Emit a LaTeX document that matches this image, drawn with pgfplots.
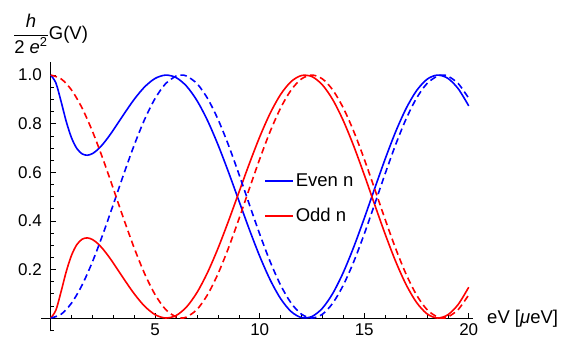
\documentclass[border=0pt]{standalone}
\usepackage{fontspec}
\setmainfont{Liberation Sans}
\usepackage{amsmath}
\usepackage{pgfplots}
\usepackage{pgfplotstable}
\pgfplotsset{compat=1.18}

% solid curves: odd n (red), even n (blue)
\pgfplotstableread{
x odd even
0 0 1
0.25 0.0328 0.9672
0.5 0.1099 0.8901
0.75 0.1931 0.8069
1 0.2591 0.7409
1.25 0.3021 0.6979
1.5 0.3242 0.6758
1.75 0.3299 0.6701
2 0.3230 0.6770
2.25 0.3068 0.6932
2.5 0.2839 0.7161
2.75 0.2563 0.7437
3 0.2257 0.7743
3.5 0.1610 0.8390
4 0.0993 0.9007
4.5 0.0481 0.9519
5 0.0136 0.9864
5.5 0.0001 0.9999
6 0.0104 0.9896
6.5 0.0457 0.9543
7 0.1052 0.8948
7.5 0.1866 0.8134
8 0.2859 0.7141
8.5 0.3979 0.6021
9 0.5164 0.4836
9.5 0.6346 0.3654
10 0.7456 0.2544
10.5 0.8428 0.1572
11 0.9202 0.0798
11.5 0.9732 0.0268
12 0.9982 0.0018
12.5 0.9936 0.0064
13 0.9596 0.0404
13.5 0.8979 0.1021
14 0.8121 0.1879
14.5 0.7074 0.2926
15 0.5900 0.4100
15.5 0.4670 0.5330
16 0.3459 0.6541
16.5 0.2340 0.7660
17 0.1383 0.8617
17.5 0.0646 0.9354
18 0.0176 0.9824
18.5 0.0001 0.9999
19 0.0133 0.9867
19.5 0.0564 0.9436
20 0.1268 0.8732
}\solidtab

% dashed curves
\pgfplotstableread{
x odd even
0 1.0000 0.0000
0.5 0.98429 0.01571
1 0.93815 0.06185
1.5 0.86448 0.13552
2 0.76791 0.23209
2.5 0.65451 0.34549
3 0.53140 0.46860
3.5 0.40631 0.59369
4 0.28711 0.71289
4.5 0.18129 0.81871
5 0.09549 0.90451
5.5 0.03511 0.96489
6 0.00394 0.99606
6.25 0 1
6.5 0.00394 0.99606
7 0.03511 0.96489
7.5 0.09549 0.90451
8 0.18129 0.81871
8.5 0.28711 0.71289
9 0.40631 0.59369
9.5 0.53140 0.46860
10 0.65451 0.34549
10.5 0.76791 0.23209
11 0.86448 0.13552
11.5 0.93815 0.06185
12 0.98429 0.01571
12.5 1 0
13 0.98429 0.01571
13.5 0.93815 0.06185
14 0.86448 0.13552
14.5 0.76791 0.23209
15 0.65451 0.34549
15.5 0.53140 0.46860
16 0.40631 0.59369
16.5 0.28711 0.71289
17 0.18129 0.81871
17.5 0.09549 0.90451
18 0.03511 0.96489
18.5 0.00394 0.99606
18.75 0 1
19 0.00394 0.99606
19.5 0.03511 0.96489
20 0.09549 0.90451
}\dashedtab

\definecolor{mblue}{RGB}{0,0,255}
\definecolor{mred}{RGB}{255,0,0}

\begin{document}
\fontsize{18.5pt}{22pt}\selectfont
\begin{tikzpicture}
\useasboundingbox (-41.3pt,-8.6pt) rectangle (523.7pt,331.4pt);
\begin{axis}[
  scale only axis,
  width=431.6pt, height=269.2pt,
  xmin=-0.45, xmax=20.2, ymin=-0.055, ymax=1.053,
  axis lines=middle,
  axis line style={-, line width=0.7pt, black},
  xtick={5,10,15,20},
  minor xtick={1,2,3,4,6,7,8,9,11,12,13,14,16,17,18,19},
  ytick={0.2,0.4,0.6,0.8,1.0},
  minor ytick={-0.05,0.05,0.1,0.15,0.25,0.3,0.35,0.45,0.5,0.55,0.65,0.7,0.75,0.85,0.9,0.95},
  tick align=inside,
  major tick length=5pt, minor tick length=3pt,
  tick style={black, line width=0.6pt},
  /pgf/number format/assume math mode=true,
  tick label style={font=\fontsize{17pt}{20pt}\selectfont},
  yticklabel style={/pgf/number format/fixed, /pgf/number format/fixed zerofill, /pgf/number format/precision=1, xshift=-2.5pt},
  xticklabel style={yshift=0.5pt},
  xlabel={eV [\textit{μ}eV]},
  xlabel style={at={(axis description cs:1.0327,0.046)}, anchor=west, inner sep=0pt},
  ylabel={$\dfrac{\mbox{\itshape h}}{\mbox{2 \itshape e\upshape\textsuperscript{2}}}$G(V)},
  ylabel style={at={(axis description cs:0.0213,1.105)}, anchor=center, inner sep=0pt, rotate=0},
  legend style={at={(axis description cs:0.516,0.4925)}, anchor=west, draw=none, fill=none, inner sep=0pt, row sep=15pt},
  legend cell align=left,
  legend image code/.code={\draw[#1, solid, line width=1.6pt] (0pt,0pt) -- (24pt,0pt); \path (24pt,0pt) -- (28pt,0pt);},
]
\addplot[mblue, line width=1.6pt, smooth] table[x=x, y=even] {\solidtab};
\addlegendentry{Even n}
\addplot[mred, line width=1.6pt, smooth] table[x=x, y=odd] {\solidtab};
\addlegendentry{Odd n}
\addplot[mblue, line width=1.6pt, smooth, dash pattern=on 6.5pt off 4pt, forget plot] table[x=x, y=even] {\dashedtab};
\addplot[mred, line width=1.6pt, smooth, dash pattern=on 6.5pt off 4pt, forget plot] table[x=x, y=odd] {\dashedtab};
\end{axis}
\end{tikzpicture}
\end{document}
